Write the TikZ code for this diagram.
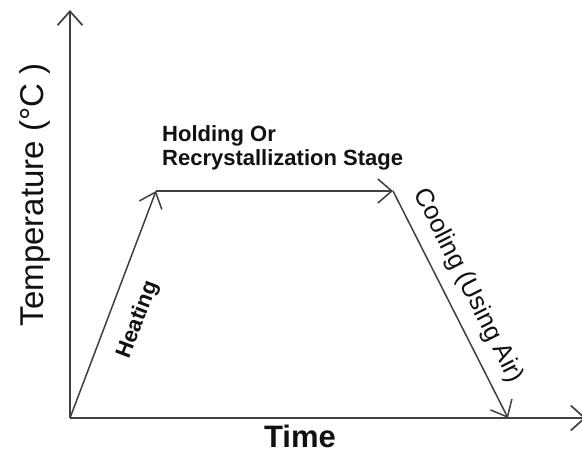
\documentclass[tikz,border=0pt]{standalone}
\usepackage{fontspec}
\setmainfont{Liberation Sans}
\usetikzlibrary{arrows.meta}
\definecolor{linegray}{HTML}{404040}
\definecolor{txt}{HTML}{111111}
\tikzset{
  axisline/.style={draw=linegray, line width=1.7pt, -{Straight Barb[length=14pt,width=25pt,line width=1.7pt]}},
  stageline/.style={draw=linegray, line width=1.5pt, -{Straight Barb[length=14pt,width=24pt,line width=1.5pt]}},
  bigbold/.style={text=txt, font=\bfseries\fontsize{31}{34}\selectfont, inner sep=0pt},
  axlab/.style={text=txt, font=\fontsize{33}{36}\selectfont, inner sep=0pt},
  stagelab/.style={text=txt, font=\bfseries\fontsize{22}{24}\selectfont, inner sep=0pt},
  heatlab/.style={text=txt, font=\bfseries\fontsize{22}{24}\selectfont, inner sep=0pt},
  coollab/.style={text=txt, font=\fontsize{25.5}{28}\selectfont, inner sep=0pt}
}
\begin{document}
\begin{tikzpicture}[x=1pt,y=-1pt]
\useasboundingbox (0,0) rectangle (582,452);
\fill[white] (0,0) rectangle (582,452);
\coordinate (O) at (70,418);
\coordinate (Ytop) at (70,10);
\coordinate (Xend) at (586,418);
\coordinate (A) at (156,191);
\coordinate (B) at (393,191);
\coordinate (C) at (508,418);
\draw[axisline] (O) -- (Ytop);
\draw[axisline] (O) -- (Xend);
\draw[stageline] (O) -- (A);
\draw[stageline] (A) -- (B);
\draw[stageline] (B) -- (C);
\node[axlab, rotate=90] (ylab) at (35,195) {Temperature (°C )};
\node[bigbold, anchor=base] (xlab) at (300,447) {Time};
\node[stagelab, anchor=base west] (hold1) at (162,142) {Holding Or};
\node[stagelab, anchor=base west] (hold2) at (162,166) {Recrystallization Stage};
\node[heatlab, rotate=69.25] (heat) at (138,320) {Heating};
\node[coollab, rotate=-63.1] (cool) at (468,286) {Cooling (Using Air)};
\end{tikzpicture}
\end{document}
